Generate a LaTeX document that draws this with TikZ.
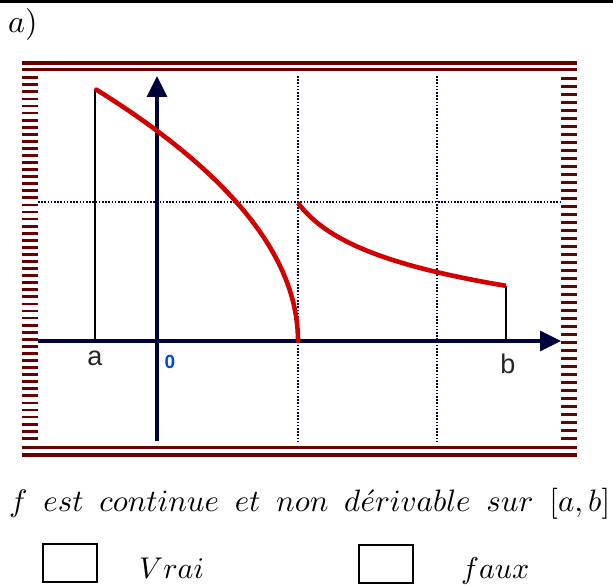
\documentclass[tikz,border=0pt]{standalone}
\usepackage{graphicx}
\usepackage{fontspec}
\newfontfamily\arialfont{Liberation Sans}
\usetikzlibrary{arrows.meta}
\definecolor{maroon}{RGB}{105,0,0}
\definecolor{navy}{RGB}{0,0,60}
\definecolor{curvered}{RGB}{210,0,0}
\definecolor{zeroblue}{RGB}{0,70,230}
\newcommand{\bigmath}[2][3.0]{\scalebox{#1}{$#2$}}
\newcommand{\wsp}{\hspace{5.1pt}}
\begin{document}
\begin{tikzpicture}[x=1pt,y=-1pt,
  borderline/.style={maroon,line width=3.4pt},
  borderdash/.style={maroon,line width=2.8pt},
  axisline/.style={navy,line width=3.2pt,-{Triangle[length=21pt,width=20pt]}},
  gridline/.style={navy,line width=1.8pt,dash pattern=on 1.6pt off 1.6pt},
  curveline/.style={curvered,line width=4.6pt},
  thinline/.style={black,line width=1.4pt},
  sanslabel/.style={font=\arialfont\fontsize{27}{30}\selectfont,text=black!85,inner sep=0pt},
  mathtext/.style={inner sep=0pt},
  checkbox/.style={draw,line width=1.4pt,minimum width=54pt,minimum height=38pt,inner sep=0pt}]
\useasboundingbox (0,0) rectangle (613,588);
% top rule
\draw[line width=3pt] (0,2) -- (613,2);
\node[mathtext,anchor=base west] (title) at (8,33) {\bigmath[3.2]{a)}};
% frame
\draw[borderline] (22,63) -- (577,63);
\draw[borderline] (22,69.8) -- (577,69.8);
\draw[borderline] (22,447.7) -- (577,447.7);
\draw[borderline] (22,455) -- (577,455);
\foreach \i in {0,...,51} \draw[borderdash] (22,77.7+7.07*\i) -- (37.5,77.7+7.07*\i);
\foreach \i in {0,...,45} \draw[borderdash] (561,78.3+8*\i) -- (577,78.3+8*\i);
% grid
\draw[gridline] (298,76) -- (298,441);
\draw[gridline] (437,76) -- (437,441);
\draw[gridline] (38,202.3) -- (561,202.3);
% axes
\coordinate (xs) at (38,341);
\coordinate (xe) at (561,341);
\coordinate (ys) at (157,441);
\coordinate (ye) at (157,76);
\draw[axisline] (xs) -- (xe);
\draw[axisline] (ys) -- (ye);
% vertical bars at a and b
\coordinate (a0) at (95,341);
\coordinate (a1) at (95,89);
\coordinate (b0) at (506,341);
\coordinate (b1) at (506,286);
\draw[thinline] (a0) -- (a1);
\draw[thinline] (b0) -- (b1);
% curves
\draw[curveline,line cap=round] plot[domain=14.2:0,samples=80,smooth,variable=\t] ({298-\t*\t},{341-17.7*\t});
\draw[curveline] plot[domain=298:506,samples=60,smooth,variable=\x] (\x,{203+40*ln(1+(\x-298)/30)});
% labels
\node[sanslabel] (la) at (95,358) {a};
\node[sanslabel] (lb) at (508,364) {b};
\node[font=\arialfont\bfseries\fontsize{19}{22}\selectfont,text=zeroblue,inner sep=0pt] (l0) at (170,362) {0};
% statement
\node[mathtext,anchor=base west] (stmt) at (9,511) {\bigmath[3.1]{f\wsp est\wsp continue\wsp et\wsp non\wsp d\acute{e}rivable\wsp sur\wsp [a,b]}};
\node[checkbox] (box1) at (70,563) {};
\node[checkbox] (box2) at (386,564) {};
\node[mathtext,anchor=base west] (vrai) at (139,578) {\bigmath{Vrai}};
\node[mathtext,anchor=base west] (faux) at (461,578) {\bigmath{faux}};
\end{tikzpicture}
\end{document}
